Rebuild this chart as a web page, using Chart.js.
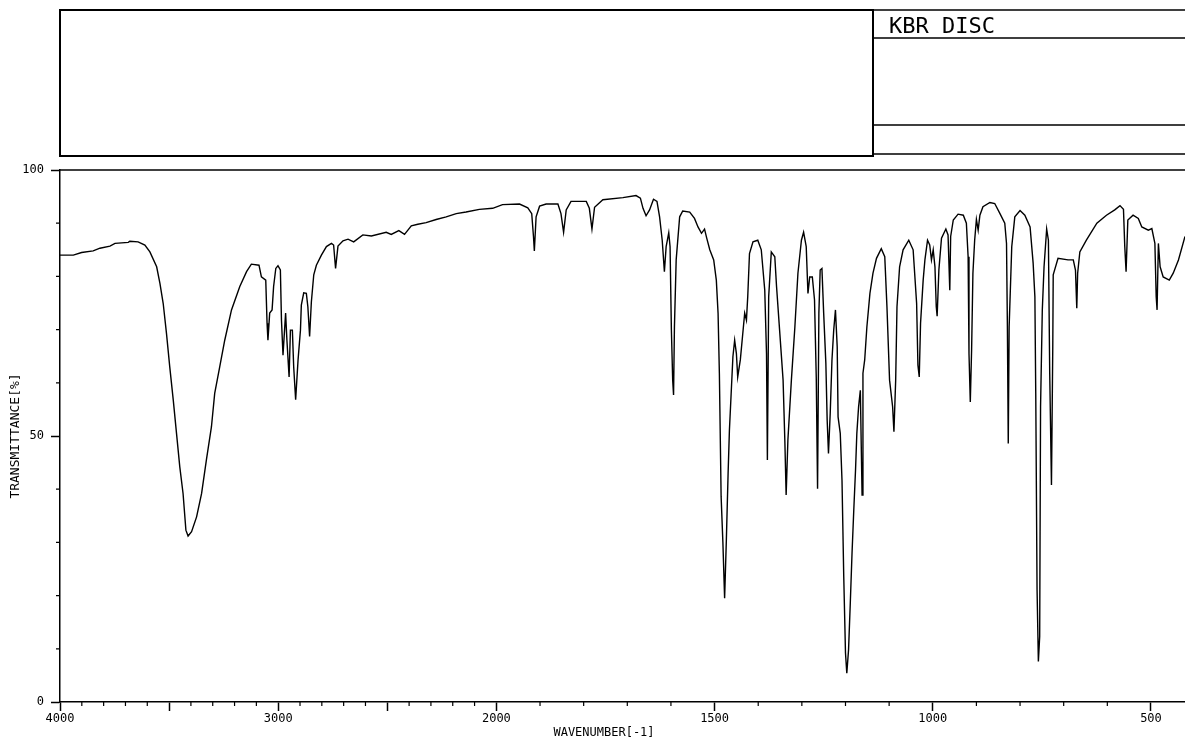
<!doctype html>
<html lang="en">
  <head>
    <meta charset="UTF-8" />
    <title>IR spectrum</title>
    <script src="https://cdn.jsdelivr.net/npm/chart.js"></script>
    <style>
      body { margin: 0; background: #fff; }
      #wrap { width: 1185px; height: 740px; position: relative; }
    </style>
  </head>
  <body>
    <div id="wrap"><canvas id="irChart"></canvas></div>

    <script>
      // spectrum, wavenumber (cm-1) / transmittance (%)
      var wavenumbers = [
        4000, 3939, 3901, 3848, 3817, 3771, 3748, 3687, 3680, 3642, 3611, 3588,
        3557, 3542, 3527, 3512, 3497, 3481, 3466, 3451, 3436, 3423, 3413, 3397,
        3374, 3351, 3329, 3306, 3291, 3268, 3245, 3214, 3176, 3145, 3123, 3088,
        3077, 3057, 3051, 3047, 3039, 3028, 3021, 3011, 3001, 2990, 2985, 2978,
        2966, 2960, 2950, 2944, 2935, 2929, 2920, 2909, 2898, 2894, 2883, 2871,
        2864, 2856, 2848, 2837, 2825, 2802, 2779, 2756, 2746, 2737, 2726, 2703,
        2680, 2654, 2612, 2573, 2505, 2482, 2447, 2421, 2390, 2360, 2322, 2276,
        2230, 2184, 2139, 2078, 2017, 1986, 1947, 1928, 1919, 1915, 1913, 1909,
        1901, 1886, 1859, 1852, 1846, 1840, 1829, 1794, 1787, 1781, 1775, 1756,
        1710, 1680, 1670, 1664, 1657, 1649, 1640, 1632, 1626, 1620, 1615, 1611,
        1605, 1602, 1599, 1596, 1594, 1592, 1588, 1580, 1573, 1557, 1546, 1538,
        1530, 1523, 1518, 1511, 1502, 1496, 1492, 1489, 1485, 1481, 1477, 1473,
        1469, 1466, 1462, 1458, 1454, 1450, 1447, 1441, 1436, 1431, 1427, 1424,
        1420, 1412, 1401, 1393, 1385, 1381, 1379, 1376, 1370, 1362, 1358, 1351,
        1343, 1339, 1336, 1332, 1324, 1316, 1309, 1301, 1296, 1290, 1286, 1282,
        1276, 1271, 1267, 1264, 1261, 1258, 1254, 1250, 1245, 1242, 1239, 1235,
        1231, 1227, 1223, 1219, 1217, 1212, 1208, 1204, 1200, 1197, 1193, 1189,
        1185, 1181, 1177, 1174, 1170, 1166, 1162, 1160, 1156, 1151, 1144, 1137,
        1129, 1118, 1110, 1105, 1099, 1092, 1089, 1085, 1082, 1076, 1068, 1055,
        1045, 1037, 1034, 1031, 1028, 1022, 1018, 1012, 1007, 1003, 999, 995,
        992, 990, 986, 980, 970, 965, 961, 959, 953, 942, 930, 923,
        919, 917, 914, 911, 908, 904, 900, 896, 892, 885, 869, 858,
        846, 835, 831, 829, 827, 825, 819, 812, 800, 789, 777, 770,
        766, 764, 761, 758, 755, 753, 749, 745, 739, 735, 732, 728,
        725, 724, 713, 690, 678, 673, 670, 668, 663, 648, 624, 602,
        583, 571, 563, 560, 557, 553, 541, 529, 521, 506, 498, 491,
        488, 486, 483, 479, 472, 458, 449, 437, 422,
      ];
      var transmittance = [
        84.0, 84.0, 84.5, 84.8, 85.3, 85.7, 86.2, 86.4, 86.6, 86.5, 85.9, 84.6,
        81.8, 78.7, 74.9, 69.3, 63.0, 56.8, 50.5, 44.2, 39.2, 32.3, 31.2, 32.0,
        34.8, 39.2, 45.5, 51.7, 58.0, 63.0, 68.0, 73.7, 78.1, 80.9, 82.3, 82.1,
        79.9, 79.3, 71.2, 68.0, 73.1, 73.7, 78.1, 81.5, 82.0, 81.2, 71.8, 65.2,
        73.1, 68.0, 61.1, 69.9, 69.9, 63.0, 56.8, 64.3, 69.9, 74.6, 76.9, 76.8,
        74.3, 68.7, 75.2, 80.3, 82.1, 84.0, 85.6, 86.2, 85.9, 81.5, 85.7, 86.7,
        87.0, 86.5, 87.8, 87.6, 88.3, 87.9, 88.6, 87.9, 89.5, 89.8, 90.1, 90.7,
        91.2, 91.8, 92.1, 92.6, 92.8, 93.5, 93.6, 92.9, 91.8, 87.5, 84.8, 91.2,
        93.2, 93.6, 93.6, 91.8, 88.3, 92.5, 94.1, 94.1, 92.8, 88.9, 93.0, 94.4,
        94.8, 95.2, 94.7, 92.8, 91.4, 92.5, 94.5, 94.1, 91.2, 86.8, 80.9, 85.6,
        88.2, 85.6, 70.0, 60.5, 57.7, 70.5, 83.1, 91.2, 92.3, 92.1, 90.9, 89.3,
        88.1, 88.9, 87.2, 85.0, 83.1, 79.3, 73.1, 61.8, 38.6, 30.1, 19.5, 30.5,
        43.0, 51.1, 58.0, 64.9, 68.0, 65.5, 61.1, 64.3, 68.7, 73.1, 71.8, 76.2,
        84.3, 86.5, 86.8, 85.0, 77.4, 65.5, 45.5, 76.2, 84.6, 83.7, 78.1, 69.9,
        60.5, 49.2, 38.9, 49.2, 60.5, 70.5, 80.6, 86.8, 88.3, 85.6, 76.8, 79.9,
        79.9, 75.6, 61.1, 40.1, 73.1, 81.2, 81.5, 73.1, 63.7, 53.0, 46.7, 54.3,
        64.3, 69.9, 73.7, 66.8, 53.6, 50.5, 41.7, 23.6, 9.2, 5.4, 9.8, 18.6,
        28.0, 36.1, 43.6, 50.5, 55.5, 58.6, 38.9, 61.8, 64.3, 70.5, 76.8, 80.6,
        83.4, 85.2, 83.7, 74.3, 60.5, 55.5, 50.8, 60.5, 74.3, 81.8, 85.0, 86.8,
        85.0, 74.9, 63.3, 61.1, 71.2, 79.3, 83.1, 86.8, 85.9, 83.1, 85.0, 81.8,
        74.3, 72.5, 81.2, 87.2, 88.9, 87.8, 77.4, 87.5, 90.6, 91.7, 91.5, 90.0,
        83.7, 65.5, 56.4, 66.2, 80.6, 86.8, 90.7, 88.7, 91.5, 93.1, 93.9, 93.7,
        91.8, 90.0, 86.2, 70.5, 48.6, 70.5, 85.6, 91.2, 92.4, 91.5, 89.3, 82.5,
        76.2, 58.0, 21.1, 7.6, 12.3, 55.5, 73.7, 81.8, 88.9, 86.8, 61.8, 40.8,
        66.8, 80.3, 83.4, 83.1, 83.1, 81.2, 74.0, 80.6, 84.6, 86.8, 90.0, 91.5,
        92.5, 93.3, 92.6, 85.6, 80.9, 90.6, 91.5, 90.9, 89.3, 88.7, 89.0, 86.2,
        76.2, 73.7, 86.2, 81.8, 79.9, 79.3, 80.6, 83.1, 87.5,
      ];

      var xTickValues = [
        4000, 3900, 3800, 3700, 3600, 3500, 3400, 3300, 3200, 3100, 3000,
        2900, 2800, 2700, 2600, 2500, 2400, 2300, 2200, 2100, 2000,
        1900, 1800, 1700, 1600, 1500, 1400, 1300, 1200, 1100, 1000,
        900, 800, 700, 600, 500,
      ];
      var xLongTicks = [4000, 3500, 3000, 2500, 2000, 1500, 1000, 500];
      var xLabels = [4000, 3000, 2000, 1500, 1000, 500];
      var yLabels = [0, 50, 100];

      // the chart paper halves its scale below 2000 cm-1
      function toU(w) {
        return w >= 2000 ? (4000 - w) / 2 : 1000 + (2000 - w);
      }
      function fromU(u) {
        return u <= 1000 ? 4000 - 2 * u : 2000 - (u - 1000);
      }

      class WaveScale extends Chart.LinearScale {
        buildTicks() {
          return xTickValues.map(function (v) {
            return { value: v };
          });
        }
        getPixelForValue(v) {
          var u0 = toU(this.max);
          var u1 = toU(this.min);
          return this.left + ((toU(v) - u0) / (u1 - u0)) * this.width;
        }
        getValueForPixel(p) {
          var u0 = toU(this.max);
          var u1 = toU(this.min);
          return fromU(u0 + ((p - this.left) / this.width) * (u1 - u0));
        }
      }
      WaveScale.id = "wave";
      WaveScale.defaults = {};
      Chart.register(WaveScale);

      var mono = "'DejaVu Sans Mono', monospace";

      var paperPlugin = {
        id: "paper",
        afterDraw: function (chart) {
          var c = chart.ctx;
          var area = chart.chartArea;
          var xs = chart.scales.x;
          var ys = chart.scales.y;
          c.save();
          c.strokeStyle = "#000";

          // header block
          c.lineWidth = 2;
          c.strokeRect(60, 10, 813, 146);
          c.lineWidth = 1.5;
          c.beginPath();
          c.moveTo(873, 10); c.lineTo(1185, 10);
          c.moveTo(873, 38); c.lineTo(1185, 38);
          c.moveTo(873, 125); c.lineTo(1185, 125);
          c.moveTo(873, 154); c.lineTo(1185, 154);
          c.stroke();
          c.fillStyle = "#000";
          c.font = "22px " + mono;
          c.textBaseline = "alphabetic";
          c.fillText("KBR DISC", 889, 33);

          // top frame line at 100 %
          c.lineWidth = 1.5;
          c.beginPath();
          c.moveTo(area.left, area.top);
          c.lineTo(area.right, area.top);
          c.stroke();

          // short minor ticks
          c.lineWidth = 1.2;
          c.beginPath();
          xTickValues.forEach(function (v) {
            if (xLongTicks.indexOf(v) >= 0) return;
            var px = xs.getPixelForValue(v);
            c.moveTo(px, area.bottom);
            c.lineTo(px, area.bottom + 4);
          });
          for (var t = 10; t < 100; t += 10) {
            if (t === 50) continue;
            var py = ys.getPixelForValue(t);
            c.moveTo(area.left - 4, py);
            c.lineTo(area.left, py);
          }
          c.stroke();

          // x axis title sits a little left of centre on the original
          c.font = "12px " + mono;
          c.textAlign = "center";
          c.textBaseline = "alphabetic";
          c.fillText("WAVENUMBER[-1]", 604, 736);
          c.restore();
        },
      };

      var points = wavenumbers.map(function (w, i) {
        return { x: w, y: transmittance[i] };
      });

      var ctx = document.getElementById("irChart").getContext("2d");
      var irChart = new Chart(ctx, {
        type: "line",
        data: {
          datasets: [
            {
              label: "Transmittance",
              data: points,
              borderColor: "#000",
              borderWidth: 1.4,
              pointRadius: 0,
              tension: 0,
              fill: false,
            },
          ],
        },
        options: {
          responsive: true,
          maintainAspectRatio: false,
          animation: false,
          events: [],
          layout: { padding: { top: 170, left: 0, right: 0, bottom: 0 } },
          plugins: {
            legend: { display: false },
            tooltip: { enabled: false },
          },
          scales: {
            x: {
              type: "wave",
              min: 422,
              max: 4000,
              afterFit: function (scale) {
                scale.height = 38;
              },
              border: { display: true, color: "#000", width: 1.5 },
              grid: {
                drawOnChartArea: false,
                drawTicks: true,
                tickLength: 9,
                tickWidth: 1.5,
                tickColor: function (c) {
                  return c.tick && xLongTicks.indexOf(c.tick.value) >= 0
                    ? "#000"
                    : "rgba(0,0,0,0)";
                },
              },
              ticks: {
                autoSkip: false,
                maxRotation: 0,
                padding: 1,
                color: "#000",
                font: { family: mono, size: 12 },
                callback: function (v) {
                  return xLabels.indexOf(v) >= 0 ? String(v) : "";
                },
              },
            },
            y: {
              min: 0,
              max: 100,
              afterFit: function (scale) {
                scale.width = 60;
              },
              border: { display: true, color: "#000", width: 1.5 },
              grid: {
                drawOnChartArea: false,
                drawTicks: true,
                tickLength: 9,
                tickWidth: 1.5,
                tickColor: function (c) {
                  return c.tick && yLabels.indexOf(c.tick.value) >= 0
                    ? "#000"
                    : "rgba(0,0,0,0)";
                },
              },
              ticks: {
                stepSize: 10,
                padding: 7,
                color: "#000",
                font: { family: mono, size: 12 },
                callback: function (v) {
                  return yLabels.indexOf(v) >= 0 ? String(v) : "";
                },
              },
              title: {
                display: true,
                text: "TRANSMITTANCE[%]",
                color: "#000",
                font: { family: mono, size: 13 },
                padding: { top: 8, bottom: 0 },
              },
            },
          },
        },
        plugins: [paperPlugin],
      });
    </script>
  </body>
</html>
